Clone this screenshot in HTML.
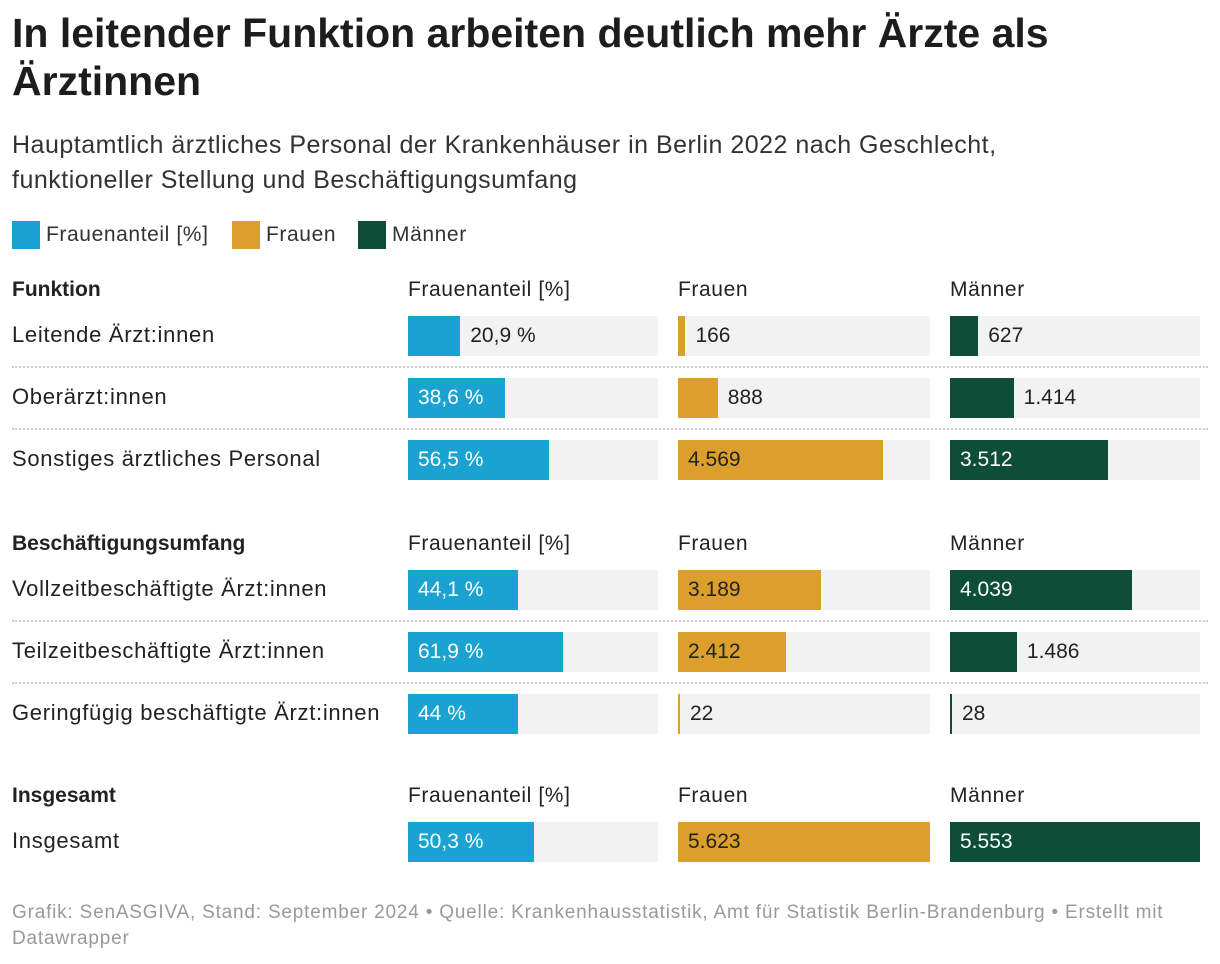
<!DOCTYPE html>
<html><head><meta charset="utf-8">
<style>
body{margin:0;width:1220px;height:964px;background:#fff;font-family:"Liberation Sans",Roboto,sans-serif;color:#1d1d1d;position:relative;overflow:hidden}
.a{position:absolute;white-space:nowrap}
h1{position:absolute;left:12px;top:9px;margin:0;font-size:41px;line-height:48px;font-weight:bold;width:1160px}
.sub{left:12px;top:128px;font-size:25px;letter-spacing:0.5px;line-height:35px;color:#333;white-space:normal;width:1070px}
.lg{top:220px;font-size:21px;letter-spacing:0.6px;color:#333;line-height:30px}
.sw{display:inline-block;width:28px;height:28px;vertical-align:middle;margin-right:6px}
.lbl{font-size:22px;letter-spacing:0.7px;left:12px;color:#222}
.hd{font-size:21px;letter-spacing:0.6px;color:#222}
.bg{position:absolute;background:#f2f2f2;height:40px}
.bar{position:absolute;left:0;top:0;height:40px}
.val{position:absolute;top:0;line-height:40px;font-size:21px}
.sep{position:absolute;left:12px;width:1196px;border-top:2px dotted #ccc;height:0}
.foot{left:12px;top:900px;font-size:19px;letter-spacing:0.8px;color:#999;line-height:26px;white-space:normal;width:1205px}
</style></head><body>
<h1>In leitender Funktion arbeiten deutlich mehr Ärzte als Ärztinnen</h1>
<div class="a sub">Hauptamtlich ärztliches Personal der Krankenhäuser in Berlin 2022 nach Geschlecht, funktioneller Stellung und Beschäftigungsumfang</div>
<div class="a lg" style="left:12px"><span class="sw" style="background:#1aa3d0"></span>Frauenanteil [%]</div>
<div class="a lg" style="left:232px"><span class="sw" style="background:#dc9f2b"></span>Frauen</div>
<div class="a lg" style="left:358px"><span class="sw" style="background:#0e4d38"></span>Männer</div>
<div id="c"></div>
<div class="a foot">Grafik: SenASGIVA, Stand: September 2024 • Quelle: Krankenhausstatistik, Amt für Statistik Berlin-Brandenburg • Erstellt mit Datawrapper</div>
<script>
const sections=["Funktion","Beschäftigungsumfang","Insgesamt"];
const rowLabels=[["Leitende Ärzt:innen","Oberärzt:innen","Sonstiges ärztliches Personal"],["Vollzeitbeschäftigte Ärzt:innen","Teilzeitbeschäftigte Ärzt:innen","Geringfügig beschäftigte Ärzt:innen"],["Insgesamt"]];
const anteil=[[20.9,38.6,56.5],[44.1,61.9,44],[50.3]];
const frauen=[[166,888,4569],[3189,2412,22],[5623]];
const maenner=[[627,1414,3512],[4039,1486,28],[5553]];
const cols=[{n:"Frauenanteil [%]",x:408,w:250,c:"#1aa3d0",max:100,inTxt:"#fff",d:anteil,f:v=>String(v).replace('.',',')+' %'},
{n:"Frauen",x:678,w:252,c:"#dc9f2b",max:5623,inTxt:"#222",d:frauen,f:v=>v.toLocaleString('de-DE')},
{n:"Männer",x:950,w:250,c:"#0e4d38",max:5553,inTxt:"#fff",d:maenner,f:v=>v.toLocaleString('de-DE')}];
const C=document.getElementById('c');
const secTop=[278,532,784];
sections.forEach((s,si)=>{
 const t=secTop[si];
 let h=document.createElement('div');h.className='a hd';h.style.cssText=`left:12px;top:${t}px;font-weight:bold;letter-spacing:0`;h.textContent=s;
 
 C.appendChild(h);
 cols.forEach(c=>{let e=document.createElement('div');e.className='a hd';e.style.cssText=`left:${c.x}px;top:${t}px`;e.textContent=c.n;
 
 C.appendChild(e);});
 rowLabels[si].forEach((r,ri)=>{
  const y=t+38+ri*62;
  let l=document.createElement('div');l.className='a lbl';l.style.cssText=`top:${y+6}px`;l.textContent=r;
  
  C.appendChild(l);
  if(ri<rowLabels[si].length-1){let sp=document.createElement('div');sp.className='sep';sp.style.top=(y+50)+'px';
  
  C.appendChild(sp);}
  cols.forEach(c=>{
   const v=c.d[si][ri];const bw=Math.max(2,v/c.max*c.w);
   let bg=document.createElement('div');bg.className='bg';bg.style.cssText=`left:${c.x}px;top:${y}px;width:${c.w}px`;
   
   
   let b=document.createElement('div');b.className='bar';b.style.cssText=`width:${bw}px;background:${c.c}`;
   
   
   bg.appendChild(b);
   const txt=c.f(v);const inside=bw>txt.length*11+20;
   let vl=document.createElement('div');vl.className='val';vl.textContent=txt;
   vl.style.left=(inside?10:bw+10)+'px';vl.style.color=inside?c.inTxt:'#222';
   
   
   bg.appendChild(vl);C.appendChild(bg);
  });
 });
});
</script>
</body></html>
